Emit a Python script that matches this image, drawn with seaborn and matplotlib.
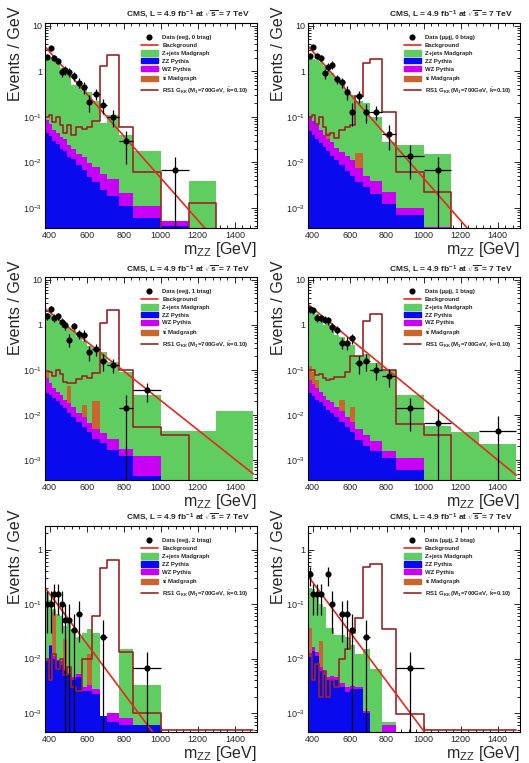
import numpy as np
import pandas as pd
import seaborn as sns
import matplotlib.pyplot as plt
from matplotlib.lines import Line2D
from matplotlib.patches import Patch
from matplotlib.ticker import MultipleLocator, FuncFormatter, LogLocator, NullFormatter

# bin edges in m_ZZ (GeV)
edges = [375, 395, 415, 435, 455, 475, 495, 515, 545, 575, 600, 630, 670, 710, 775, 850, 1000, 1150, 1300, 1500]
nan = np.nan

# ---- ee, 0 btag ----
zjets_ee0 = [1.91, 2.03, 1.85, 1.46, 1.16, 0.97, 0.83, 0.48, 0.585, 0.44, 0.34, 0.21, 0.069, 0.106, 0.038, 0.017, 0, 0.0038, 0]
zz_ee0 = [0.045, 0.038, 0.029, 0.025, 0.020, 0.018, 0.013, 0.012, 0.0085, 0.0066, 0.0047, 0.0036, 0.0025, 0.0018, 0.0011, 0.0006, 0.0004, 0, 0]
wz_ee0 = [0.042, 0.030, 0.023, 0.018, 0.016, 0.014, 0.011, 0.008, 0.0065, 0.0064, 0.0048, 0.0042, 0.0031, 0.0024, 0.0010, 0.0005, 0.0001, 0, 0]
tt_ee0 = [0] * 19
sig_ee0 = [0.1, 0.11, 0.075, 0.1, 0.065, 0.045, 0.065, 0.04, 0.06, 0.055, 0.06, 0.08, 1.3, 2.3, 0.06, 0.006, 0, 0.0013, 0]
data_ee0 = [2.1, 3.2, 2.0, 1.7, 0.95, 1.05, 0.97, 0.78, 0.56, 0.45, 0.21, 0.32, 0.18, 0.1, 0.029, nan, 0.0067, nan, nan]
bkg_ee0 = [3.5, 2.2e-5]

# ---- mumu, 0 btag ----
zjets_mm0 = [1.8, 1.82, 1.73, 1.55, 1.26, 0.955, 0.87, 0.68, 0.53, 0.386, 0.289, 0.204, 0.195, 0.096, 0.025, 0.023, 0.0146, 0, 0]
zz_mm0 = [0.048, 0.04, 0.033, 0.027, 0.022, 0.018, 0.014, 0.011, 0.0085, 0.0065, 0.005, 0.0036, 0.0028, 0.002, 0.0012, 0.0007, 0.0003, 0, 0]
wz_mm0 = [0.052, 0.04, 0.032, 0.023, 0.018, 0.015, 0.014, 0.01, 0.0085, 0.0075, 0.006, 0.0039, 0.0022, 0.0018, 0.001, 0.0003, 0.00008, 0, 0]
tt_mm0 = [0, 0, 0, 0, 0, 0.012, 0, 0, 0, 0, 0, 0.0085, 0, 0, 0, 0, 0, 0, 0]
sig_mm0 = [0.1, 0.11, 0.07, 0.1, 0.06, 0.04, 0.045, 0.035, 0.05, 0.06, 0.065, 0.28, 1.5, 1.9, 0.13, 0.006, 0.0022, 0, 0]
data_mm0 = [2.2, 3.4, 2.2, 2.0, 0.9, 1.25, 1.4, 0.68, 0.57, 0.35, 0.13, 0.28, 0.13, 0.13, 0.042, 0.014, 0.0067, nan, nan]
bkg_mm0 = [3.6, 2.1e-5]

# ---- ee, 1 btag ----
zjets_ee1 = [1.7, 1.65, 1.46, 1.27, 1.07, 0.98, 0.81, 0.735, 0.54, 0.43, 0.34, 0.28, 0.246, 0.147, 0.086, 0.027, 0.0045, 0.0045, 0.012]
zz_ee1 = [0.03, 0.028, 0.024, 0.02, 0.017, 0.014, 0.011, 0.009, 0.007, 0.0055, 0.0042, 0.003, 0.0024, 0.0017, 0.0012, 0.00045, 0, 0, 0]
wz_ee1 = [0.035, 0.022, 0.016, 0.013, 0.011, 0.008, 0.007, 0.006, 0.004, 0.0035, 0.0023, 0.002, 0.0016, 0.0013, 0.0006, 0.00075, 0, 0, 0]
tt_ee1 = [0.03, 0, 0, 0, 0, 0, 0.025, 0, 0, 0.008, 0, 0.015, 0, 0, 0, 0, 0, 0, 0]
sig_ee1 = [0.095, 0.09, 0.075, 0.1, 0.08, 0.055, 0.05, 0.05, 0.063, 0.074, 0.065, 0.085, 1.1, 2.1, 0.1, 0.0055, 0.0035, 0, 0]
data_ee1 = [1.55, 2.3, 1.45, 1.55, 1.15, 1.0, 0.47, 0.93, 0.63, 0.6, 0.25, 0.29, 0.16, 0.13, 0.014, 0.035, nan, nan, nan]
bkg_ee1 = [2.3, 4.9e-4]

# ---- mumu, 1 btag ----
zjets_mm1 = [2.18, 1.91, 1.64, 1.47, 0.97, 1.08, 0.93, 0.585, 0.528, 0.41, 0.335, 0.195, 0.226, 0.137, 0.098, 0.027, 0.0056, 0.0041, 0.0023]
zz_mm1 = [0.03, 0.027, 0.022, 0.019, 0.016, 0.013, 0.011, 0.009, 0.007, 0.0055, 0.0042, 0.0028, 0.002, 0.0016, 0.0011, 0.0006, 0, 0, 0]
wz_mm1 = [0.03, 0.021, 0.018, 0.013, 0.011, 0.009, 0.008, 0.006, 0.005, 0.0035, 0.0028, 0.0022, 0.0016, 0.001, 0.0005, 0.0005, 0, 0, 0]
tt_mm1 = [0.06, 0.04, 0.02, 0, 0, 0, 0, 0, 0.01, 0, 0.008, 0, 0, 0, 0, 0, 0, 0, 0]
sig_mm1 = [0.1, 0.1, 0.076, 0.08, 0.065, 0.06, 0.062, 0.07, 0.07, 0.09, 0.2, 0.2, 1.2, 1.7, 0.1, 0.0063, 0.0035, 0, 0]
data_mm1 = [2.2, 2.1, 1.45, 1.4, 1.3, 1.25, 0.9, 0.78, 0.4, 0.4, 0.5, 0.14, 0.16, 0.1, 0.072, 0.014, 0.0068, nan, 0.0045]
bkg_mm1 = [2.85, 4.6e-4]

# ---- ee, 2 btag ----
zjets_ee2 = [0.16, 0.1, 0.009, 0.055, 0.051, 0.0175, 0.039, 0.03, 0.02, 0.027, 0.023, 0.027, 0, 0, 0.014, 0.0027, 0, 0, 0]
zz_ee2 = [0.009, 0.017, 0.01, 0.009, 0.0075, 0.006, 0.005, 0.004, 0.0045, 0.0025, 0.0025, 0.0022, 0.0009, 0.0007, 0.0006, 0.0006, 0, 0, 0]
wz_ee2 = [0.0005, 0.001, 0.001, 0.0005, 0.0015, 0.0005, 0.0005, 0.0005, 0.0007, 0.0005, 0.0008, 0.0006, 0, 0.0003, 0.0002, 0, 0, 0, 0]
tt_ee2 = [0, 0, 0.06, 0, 0, 0.016, 0, 0, 0, 0, 0.009, 0, 0, 0, 0, 0, 0, 0, 0]
sig_ee2 = [0.01, 0.004, 0.012, 0.0065, 0.01, 0.005, 0.007, 0.003, 0.0025, 0.01, 0.01, 0.06, 0.45, 0.63, 0.013, 0.001, 0.0005, 0.0005, 0.0005]
data_ee2 = [0.1, 0.1, 0.15, 0.15, 0.1, 0.05, 0.05, 0.033, 0.067, nan, nan, nan, 0.025, nan, nan, 0.0067, nan, nan, nan]
bkg_ee2 = [0.2, 1.5e-6]

# ---- mumu, 2 btag ----
zjets_mm2 = [0.163, 0.174, 0.137, 0.079, 0.084, 0.0325, 0.032, 0.0225, 0.0235, 0.022, 0.0148, 0.009, 0.0139, 0.0065, 0.0001, 0, 0, 0, 0]
zz_mm2 = [0.0105, 0.014, 0.011, 0.006, 0.005, 0.004, 0.004, 0.004, 0.003, 0.0024, 0.0028, 0.0028, 0.001, 0, 0.0002, 0, 0, 0, 0]
wz_mm2 = [0.0015, 0.002, 0.002, 0.001, 0.001, 0.0005, 0.0008, 0.0005, 0.0005, 0.0006, 0.0004, 0.0002, 0.0001, 0, 0.0004, 0, 0, 0, 0]
tt_mm2 = [0.025, 0, 0, 0.014, 0, 0, 0, 0, 0, 0, 0, 0, 0, 0, 0, 0, 0, 0, 0]
sig_mm2 = [0.012, 0.004, 0.008, 0.002, 0.006, 0.002, 0.004, 0.003, 0.01, 0.015, 0.03, 0.055, 0.48, 0.55, 0.035, 0.00095, 0.0005, 0.0005, 0.0005]
data_mm2 = [0.35, 0.15, 0.15, 0.15, nan, 0.35, 0.1, nan, 0.067, 0.067, 0.033, nan, 0.025, nan, nan, 0.0067, nan, nan, nan]
bkg_mm2 = [0.33, 2.5e-6]

bkg_x = [375, 1500]
channels = ['eejj, 0 btag', 'μμjj, 0 btag', 'eejj, 1 btag', 'μμjj, 1 btag', 'eejj, 2 btag', 'μμjj, 2 btag']

sns.set_style('ticks')
plt.rcParams['font.family'] = ['Liberation Sans', 'DejaVu Sans']
plt.rcParams['mathtext.fontset'] = 'custom'
plt.rcParams['mathtext.rm'] = 'Liberation Sans'
plt.rcParams['mathtext.it'] = 'Liberation Sans:italic'
plt.rcParams['mathtext.bf'] = 'Liberation Sans:bold'

c_zj, c_zz, c_wz, c_tt = '#60cd60', '#0a0aee', '#c800f5', '#c8662e'
c_bkg, c_sig = '#e8281e', '#9b2424'
procs = ['Z+jets', 'ttbar', 'WZ', 'ZZ']
pal = {'Z+jets': c_zj, 'ttbar': c_tt, 'WZ': c_wz, 'ZZ': c_zz}

edges_a = np.array(edges, dtype=float)
centers = 0.5 * (edges_a[1:] + edges_a[:-1])
widths = edges_a[1:] - edges_a[:-1]

panels = [
    (zjets_ee0, zz_ee0, wz_ee0, tt_ee0, sig_ee0, data_ee0, bkg_ee0),
    (zjets_mm0, zz_mm0, wz_mm0, tt_mm0, sig_mm0, data_mm0, bkg_mm0),
    (zjets_ee1, zz_ee1, wz_ee1, tt_ee1, sig_ee1, data_ee1, bkg_ee1),
    (zjets_mm1, zz_mm1, wz_mm1, tt_mm1, sig_mm1, data_mm1, bkg_mm1),
    (zjets_ee2, zz_ee2, wz_ee2, tt_ee2, sig_ee2, data_ee2, bkg_ee2),
    (zjets_mm2, zz_mm2, wz_mm2, tt_mm2, sig_mm2, data_mm2, bkg_mm2),
]

fig = plt.figure(figsize=(5.29, 7.63), dpi=100)
lefts = [0.085, 0.582]
rows = [(0.7012, 0.2687), (0.3709, 0.266), (0.0406, 0.27)]
ylims = [(3.6e-4, 11.5), (3.6e-4, 11.5), (4.5e-4, 2.7)]


def yfmt(v, pos):
    e = int(round(np.log10(v)))
    if e == 0:
        return '1'
    if e == 1:
        return '10'
    return r'$10^{%d}$' % e


for i, (zj, zz, wz, tt, sig, data, bkg) in enumerate(panels):
    r, c = divmod(i, 2)
    ax = fig.add_axes([lefts[c], rows[r][0], 0.401, rows[r][1]])

    comp = pd.DataFrame({
        'mzz': np.tile(centers, 4),
        'val': np.concatenate([zj, tt, wz, zz]),
        'proc': np.repeat(procs, len(centers)),
    })
    sns.histplot(data=comp, x='mzz', weights='val', hue='proc', hue_order=procs,
                 multiple='stack', bins=edges, palette=pal, alpha=1, linewidth=0,
                 legend=False, ax=ax)
    sns.histplot(x=centers, weights=sig, bins=edges, element='step', fill=False,
                 color=c_sig, linewidth=1.2, ax=ax)
    sns.lineplot(x=bkg_x, y=bkg, color=c_bkg, linewidth=1.2, ax=ax)

    d = np.array(data, dtype=float)
    n = d * widths
    err = np.sqrt(n) / widths
    lo = np.minimum(err, d * 0.9999)
    ax.errorbar(centers, d, xerr=widths / 2, yerr=[lo, err], fmt='o', color='black',
                ms=3.4, elinewidth=0.9, capsize=0, zorder=5)

    ax.set_yscale('log')
    ax.set_xlim(375, 1520)
    ax.set_ylim(*ylims[r])
    ax.xaxis.set_major_locator(MultipleLocator(200))
    ax.xaxis.set_minor_locator(MultipleLocator(40))
    ax.yaxis.set_major_locator(LogLocator(base=10))
    ax.yaxis.set_major_formatter(FuncFormatter(yfmt))
    ax.yaxis.set_minor_formatter(NullFormatter())
    ax.tick_params(which='both', direction='in', top=True, right=True, labelsize=6.5,
                   width=0.7, pad=2)
    ax.tick_params(which='major', length=4.5)
    ax.tick_params(which='minor', length=2.3)
    for s in ax.spines.values():
        s.set_linewidth(0.8)
        s.set_color('black')

    ax.set_ylabel('')
    ax.set_xlabel(r'm$_{\rm ZZ}$ [GeV]', fontsize=11.5, loc='right', labelpad=0)
    ax.text(-0.14, 1.08, 'Events / GeV', rotation=90, ha='center', va='top',
            fontsize=11.5, transform=ax.transAxes)
    ax.text(0.967, 1.04, r'CMS, L = 4.9 fb$^{\mathbf{-1}}$ at $\sqrt{\mathbf{s}}$ = 7 TeV',
            ha='right', va='center', fontsize=6, fontweight='bold', transform=ax.transAxes)

    handles = [
        Line2D([], [], marker='o', color='black', linestyle='none', ms=3.4),
        Line2D([], [], color=c_bkg, lw=1.2),
        Patch(color=c_zj), Patch(color=c_zz), Patch(color=c_wz), Patch(color=c_tt),
        Line2D([], [], color=c_sig, lw=1.2),
    ]
    labels = [
        'Data (' + channels[i] + ')', 'Background', 'Z+jets Madgraph', 'ZZ Pythia',
        'WZ Pythia', r't$\bar{\mathbf{t}}$ Madgraph',
        r'RS1 G$_{\mathbf{KK}}$ (M$_{\mathbf{1}}$=700GeV, $\tilde{\mathbf{k}}$=0.10)',
    ]
    ax.legend(handles, labels, loc='upper left', bbox_to_anchor=(0.44, 0.955),
              frameon=False, prop={'size': 4.3, 'weight': 'bold'},
              handlelength=2.9, handleheight=1.05, labelspacing=0.33,
              borderaxespad=0, handletextpad=0.7)

fig.savefig('out.png', dpi=100)
